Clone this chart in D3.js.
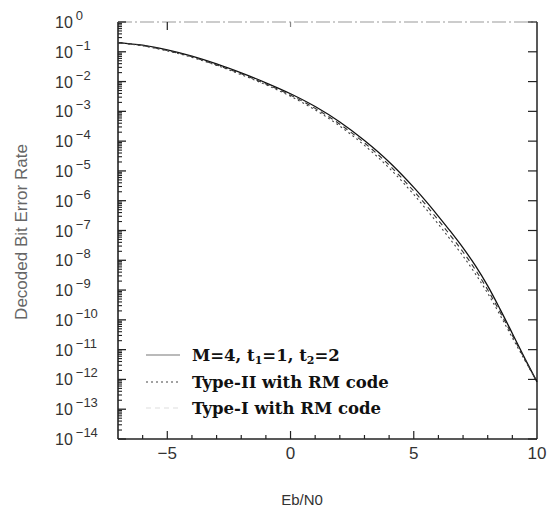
<!DOCTYPE html>
<html><head><meta charset="utf-8">
<script src="https://cdn.jsdelivr.net/npm/d3@7"></script>
<style>body{margin:0;background:#fff}</style>
</head><body>
<svg id="c" width="558" height="509"></svg>
<script>
const ebn0 = [-7,-6,-5,-4,-3,-2,-1,0,1,2,3,4,5,5.5,6,6.5,7,7.5,8,8.5,9,9.5,10];
const berM4 = [2.04e-1,1.66e-1,1.15e-1,7.1e-2,3.9e-2,1.95e-2,9.1e-3,3.9e-3,1.45e-3,4.4e-4,1.05e-4,2.0e-5,2.8e-6,9.5e-7,3.0e-7,9.1e-8,2.6e-8,6.6e-9,1.38e-9,2.3e-10,3.5e-11,5.2e-12,8.3e-13];
const berType2 = [2.0e-1,1.58e-1,1.07e-1,6.5e-2,3.5e-2,1.7e-2,7.8e-3,3.2e-3,1.12e-3,3.2e-4,7.2e-5,1.26e-5,1.62e-6,5.2e-7,1.62e-7,4.8e-8,1.38e-8,3.5e-9,7.8e-10,1.45e-10,2.5e-11,4.5e-12,8.3e-13];
const berType1 = [2.04e-1,1.62e-1,1.1e-1,6.8e-2,3.6e-2,1.82e-2,8.3e-3,3.5e-3,1.26e-3,3.7e-4,8.7e-5,1.58e-5,2.1e-6,7.1e-7,2.2e-7,6.6e-8,1.9e-8,4.8e-9,1.02e-9,1.82e-10,3.0e-11,4.8e-12,8.3e-13];
const xTickLabels = [-5,0,5,10];
const yExponents = [0,-1,-2,-3,-4,-5,-6,-7,-8,-9,-10,-11,-12,-13,-14];
const seriesNames = ["M=4, t1=1, t2=2","Type-II with RM code","Type-I with RM code"];

const svg = d3.select("#c");
const L=118,R=537,T=22,B=439;
const x = d3.scaleLinear().domain([-7,10]).range([L,R]);
const y = d3.scaleLog().domain([1,1e-14]).range([T,B]);
const ink = "#222";

// frame
svg.append("line").attr("x1",L).attr("x2",R).attr("y1",B).attr("y2",B).attr("stroke",ink).attr("stroke-width",1.3);
svg.append("line").attr("x1",L).attr("x2",L).attr("y1",T).attr("y2",B).attr("stroke",ink).attr("stroke-width",1.6);
svg.append("line").attr("x1",R).attr("x2",R).attr("y1",T).attr("y2",B).attr("stroke",ink).attr("stroke-width",1.5);
svg.append("line").attr("x1",L).attr("x2",R).attr("y1",T).attr("y2",T).attr("stroke","#999").attr("stroke-width",1).attr("stroke-dasharray","14,3,2,3");

// bottom ticks
const xInts = d3.range(-6,10);
svg.selectAll(".xt").data(xInts).enter().append("line")
  .attr("x1",d=>x(d)).attr("x2",d=>x(d)).attr("y1",B).attr("y2",d=>B-(d%5===0?8:4))
  .attr("stroke",ink).attr("stroke-width",1.2);
// top ticks
svg.selectAll(".xtt").data([-5,0]).enter().append("line")
  .attr("x1",d=>x(d)).attr("x2",d=>x(d)).attr("y1",T).attr("y2",d=>T+(d===-5?8:5))
  .attr("stroke",d=>d===-5?ink:"#888").attr("stroke-width",1.2);
// x labels
svg.selectAll(".xl").data(xTickLabels).enter().append("text")
  .attr("x",d=>x(d)).attr("y",459).attr("text-anchor","middle")
  .attr("font-family","Liberation Sans, Arial, sans-serif").attr("font-size",17).attr("fill","#333")
  .text(d=>d<0?"\u2212"+Math.abs(d):d);
svg.append("text").attr("x",302).attr("y",505).attr("text-anchor","middle")
  .attr("font-family","Liberation Sans, Arial, sans-serif").attr("font-size",15).attr("fill","#333").text("Eb/N0");

// y ticks
const minor=[];
yExponents.forEach(e=>{ if(e>-14){ for(let m=2;m<=9;m++) minor.push(m*Math.pow(10,e-1)); } });
svg.selectAll(".ymn").data(minor).enter().append("line")
  .attr("x1",L).attr("x2",L+4).attr("y1",d=>y(d)).attr("y2",d=>y(d)).attr("stroke",ink).attr("stroke-width",1.1);
svg.selectAll(".ymj").data(yExponents).enter().append("line")
  .attr("x1",L).attr("x2",L+8).attr("y1",d=>y(Math.pow(10,d))).attr("y2",d=>y(Math.pow(10,d))).attr("stroke",ink).attr("stroke-width",1.3);
svg.selectAll(".ymr").data(yExponents).enter().append("line")
  .attr("x1",R).attr("x2",R-9).attr("y1",d=>y(Math.pow(10,d))).attr("y2",d=>y(Math.pow(10,d))).attr("stroke",ink).attr("stroke-width",1.2);
const yl = svg.selectAll(".yl").data(yExponents).enter().append("text")
  .attr("x",55).attr("y",d=>y(Math.pow(10,d))+6)
  .attr("font-family","Liberation Sans, Arial, sans-serif").attr("font-size",16).attr("fill","#333");
yl.append("tspan").text("10");
yl.append("tspan").attr("dx",3).attr("dy",-8).attr("font-size",13).text(d=>d===0?"0":"\u2212"+Math.abs(d));

svg.append("text").attr("transform","translate(27,232) rotate(-90)").attr("text-anchor","middle")
  .attr("font-family","Liberation Sans, Arial, sans-serif").attr("font-size",17).attr("fill","#666")
  .text("Decoded Bit Error Rate");

// curves
const line = d3.line().x(d=>x(d[0])).y(d=>y(d[1])).curve(d3.curveMonotoneX);
const series = [
  {vals:berM4, dash:null, w:1.3, c:"#111"},
  {vals:berType2, dash:"2,3", w:1.1, c:"#444"},
  {vals:berType1, dash:"5,4", w:1.1, c:"#333"}
];
svg.selectAll(".crv").data(series).enter().append("path")
  .attr("d",s=>line(ebn0.map((e,i)=>[e,s.vals[i]])))
  .attr("fill","none").attr("stroke",s=>s.c).attr("stroke-width",s=>s.w)
  .attr("stroke-dasharray",s=>s.dash);

// legend
const ly=[355,382,408];
const legStyles=[{dash:null,c:"#777"},{dash:"2,3",c:"#444"},{dash:"5,4",c:"#ddd"}];
seriesNames.forEach((n,i)=>{
  svg.append("line").attr("x1",146).attr("x2",180).attr("y1",ly[i]).attr("y2",ly[i])
    .attr("stroke",legStyles[i].c).attr("stroke-width",1.1).attr("stroke-dasharray",legStyles[i].dash);
  const t = svg.append("text").attr("x",192).attr("y",ly[i]+6)
    .attr("font-family","DejaVu Serif, serif").attr("font-weight","bold").attr("font-size",16.5).attr("fill","#111");
  if(i===0){
    t.append("tspan").text("M=4, t");
    t.append("tspan").attr("font-size",11).attr("dy",3).text("1");
    t.append("tspan").attr("dy",-3).text("=1, t");
    t.append("tspan").attr("font-size",11).attr("dy",3).text("2");
    t.append("tspan").attr("dy",-3).text("=2");
  } else t.text(n);
});
</script>
</body></html>
